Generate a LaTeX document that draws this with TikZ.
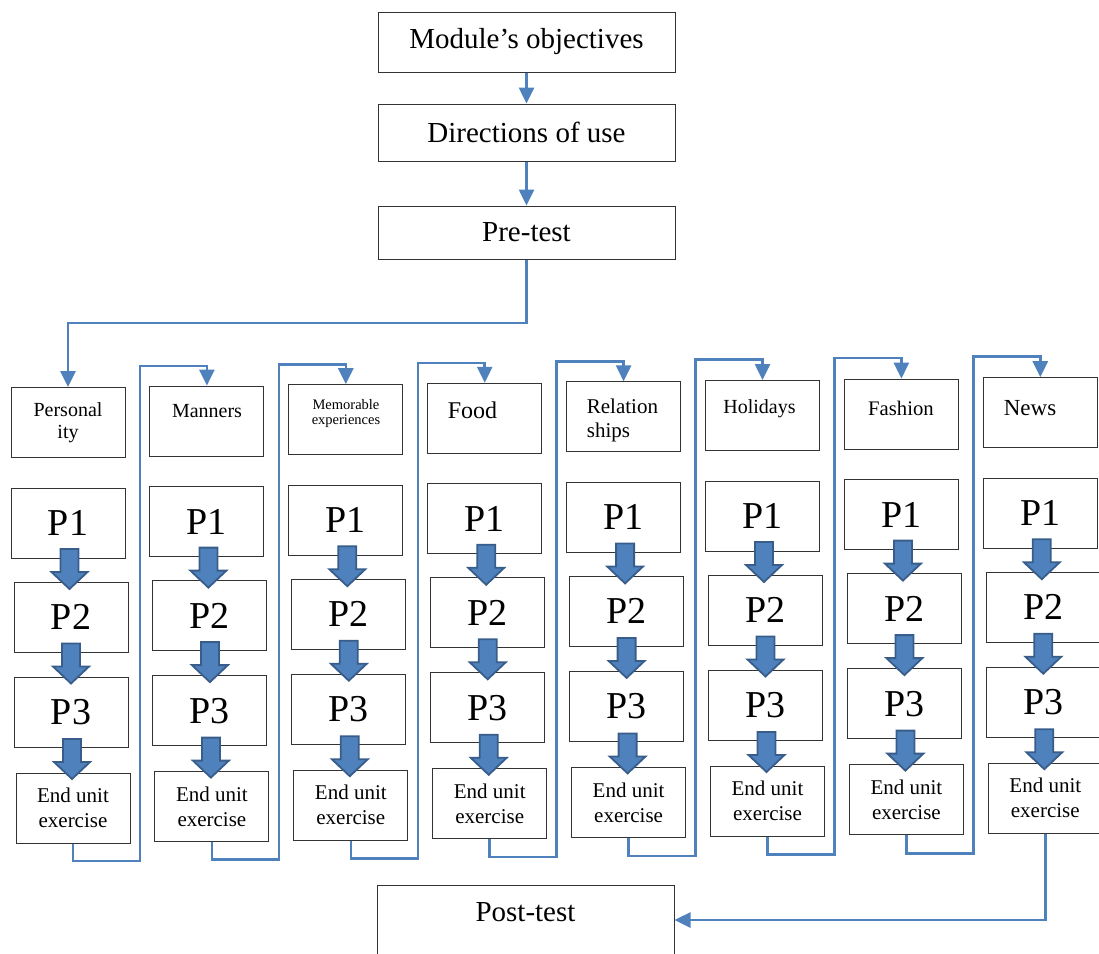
\documentclass[tikz,border=0pt]{standalone}
\usepackage{fontspec}
\setmainfont{Liberation Serif}
\usepackage{xcolor}
\usetikzlibrary{arrows.meta,calc}

\definecolor{linkblue}{HTML}{4F81BD}
\definecolor{arrowedge}{HTML}{385D8A}

\begin{document}
\begin{tikzpicture}[x=1pt,y=-1pt,
  box/.style={draw=black!80, line width=1pt, inner sep=0pt, minimum width=114pt, minimum height=70pt},
  bigbox/.style={box, minimum width=297pt, font=\fontsize{29}{31}\selectfont},
  pbox/.style={box, font=\fontsize{38}{40}\selectfont},
  ebox/.style={box, align=center, font=\fontsize{21}{25}\selectfont},
  ttl/.style={inner sep=0pt, font=\fontsize{20}{22}\selectfont},
  link/.style={draw=linkblue, line width=2.6pt, -{Triangle[length=16pt,width=15pt]}},
  blockarrow/.style={fill=linkblue, draw=arrowedge, line width=1.8pt, line join=miter}]

\useasboundingbox (0,0) rectangle (1099,953);
\clip (0,0) rectangle (1099,953);

% Top chain
\node[bigbox, minimum height=60pt] (obj) at (526.5,42) {Module’s objectives};
\node[bigbox, minimum height=57pt] (dir) at (526.5,132.5) {Directions of use};
\node[bigbox, minimum height=53pt] (pre) at (526.5,232.5) {Pre-test};

\draw[link] (obj) -- (dir);
\draw[link] (dir) -- (pre);

% Units: title box, P1--P3, end unit exercise
\foreach \i in {1,...,8}{
  \pgfmathsetmacro\xl{11+138.9*(\i-1)}
  \pgfmathsetmacro\yo{1.4*(\i-1)}
  \node[box] (t\i) at (\xl+57,422.5-\yo) {};
  \node[pbox] (pa\i) at (\xl+57,523-\yo) {P1};
  \node[pbox] (pb\i) at (\xl+60,617-\yo) {P2};
  \node[pbox] (pc\i) at (\xl+60,712-\yo) {P3};
  \node[ebox] (ex\i) at (\xl+62,808-\yo) {End unit\\exercise};
  \foreach \s/\n in {pa/pb,pb/pc,pc/ex}
    \path[blockarrow] ($(\s\i.south)!.5!(\n\i.north)$) ++(-9,-21) -- ++(18,0) -- ++(0,23)
      -- ++(9,0) -- ++(-18,17) -- ++(-18,-17) -- ++(9,0) -- cycle;
}

% Unit titles
\node[ttl, align=center] (lab1) at (68,423) {Personal\\ity};
\node[ttl, anchor=base] (lab2) at (207,417) {Manners};
\node[ttl, align=center, font=\fontsize{14.5}{15}\selectfont] (lab3) at (346,414) {Memorable\\experiences};
\node[ttl, anchor=base, font=\fontsize{24}{26}\selectfont] (lab4) at (472.5,418) {Food};
\node[ttl, align=left, anchor=west, font=\fontsize{21}{24}\selectfont] (lab5) at (586.7,420) {Relation\\ships};
\node[ttl, anchor=base] (lab6) at (759.5,413) {Holidays};
\node[ttl, anchor=base, font=\fontsize{20.7}{22}\selectfont] (lab7) at (901,415) {Fashion};
\node[ttl, anchor=base, font=\fontsize{23}{25}\selectfont] (lab8) at (1030,415) {News};

% Post-test
\node[bigbox, minimum height=70pt] (post) at (525.5,920) {};
\node[inner sep=0pt, font=\fontsize{29}{31}\selectfont] (postlab) at (525.5,912.5) {Post-test};

% Connectors
\coordinate (turn) at (300,323);
\draw[link] (pre.south) |- (turn) -| (t1.north);

\foreach \i [evaluate=\i as \j using int(\i+1)] in {1,...,7}{
  \pgfmathsetmacro\xv{11+138.9*(\i-1)+129}
  \coordinate (lo\i) at (\xv,{861-1.3*(\i-1)});
  \coordinate (hi\i) at (\xv,{366-1.6*(\i-1)});
  \draw[link] (ex\i.south) |- (lo\i) -- (hi\i) -| (t\j.north);
}

\draw[link] (ex8.south) |- (post.east);

\end{tikzpicture}
\end{document}
